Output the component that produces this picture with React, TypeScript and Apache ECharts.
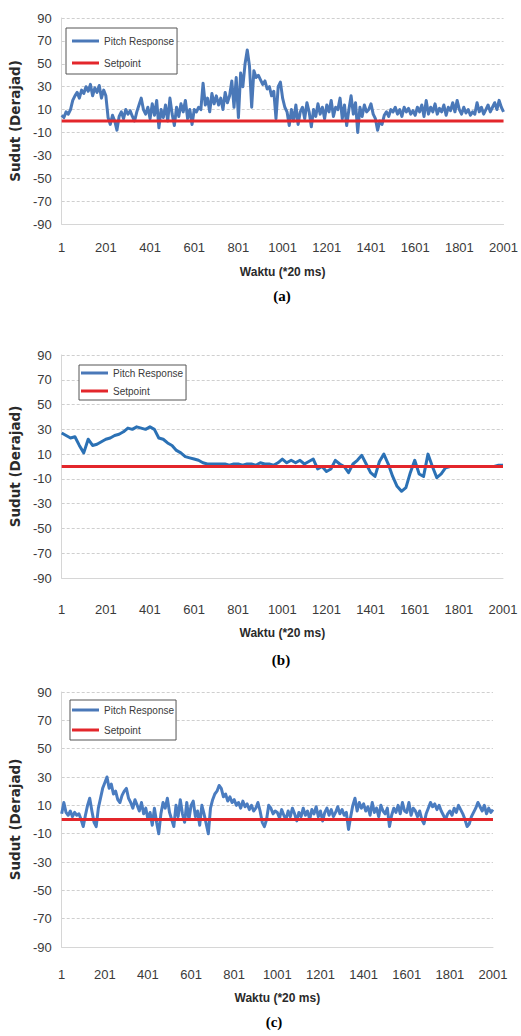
import React, { useEffect, useRef } from "react";
import * as echarts from "echarts";

// Sample times (label = sample index, one point every 10 or 20 samples)
const CATS_10 = Array.from({ length: 201 }, (_, i) => String(1 + i * 10));
const CATS_20 = Array.from({ length: 101 }, (_, i) => String(1 + i * 20));

const SETPOINT = 0;

// (a) pitch response, one value every 10 samples
const PITCH_A = [
  5, 3, 8, 6, 10, 18, 22, 25, 20, 27,
  24, 30, 26, 32, 22, 29, 25, 31, 20, 27,
  22, 3, -3, 5, 0, -8, 4, 8, 2, 10,
  6, 9, 4, 0, 8, 14, 20, 10, 6, 12,
  2, 15, 5, 18, -6, 10, 3, 14, 0, 20,
  6, -4, 12, 4, 15, 8, 18, 2, 10, -3,
  10, 8, 12, 10, 33, 14, 20, 8, 24, 15,
  22, 14, 20, 10, 25, 16, 22, 35, 12, 38,
  3, 42, 30, 50, 62, 48, 12, 44, 38, 40,
  36, 32, 35, 28, 30, 22, 26, 2, 30, 34,
  20, 12, 8, -4, 10, 0, 14, -3, 8, 12,
  2, 16, 8, -5, 10, 4, 15, 6, 12, 2,
  14, 8, 18, 4, 12, 10, 20, 2, 14, -4,
  10, 22, 6, 16, -10, 12, 4, 14, 8, 10,
  15, 6, 2, -8, 0, -3, 5, 8, 4, 10,
  8, 12, 6, 10, 4, 12, 8, 11, 6, 9,
  5, 12, 8, 14, 4, 18, 6, 12, 8, 15,
  6, 11, 8, 14, 5, 12, 9, 16, 8, 18,
  10, 6, 12, 7, 10, 5, 8, 6, 16, 8,
  12, 6, 10, 14, 8, 12, 16, 10, 18, 12,
  8,
];

// (b) pitch response, one value every 20 samples
const PITCH_B = [
  27, 25, 23, 24, 17, 11, 22, 17, 18, 20,
  22, 23, 25, 26, 28, 31, 30, 32, 31, 30,
  32, 30, 23, 22, 19, 17, 13, 11, 8, 7,
  6, 5, 3, 2, 2, 2, 2, 2, 1, 2,
  2, 1, 2, 2, 1, 3, 2, 2, 1, 3,
  6, 3, 5, 3, 5, 2, 4, 6, -2, 0,
  -4, -2, 5, 2, 0, -5, 2, 5, 9, 2,
  -5, -8, 4, 10, 2, -8, -16, -20, -17, -5,
  5, -6, -8, 10, 0, -9, -6, -1, 0, 0,
  0, 0, 0, 0, 0, 0, 0, 0, 0, 1,
  1,
];

// (c) pitch response, one value every 10 samples
const PITCH_C = [
  4, 12, 5, 3, 6, 2, 5, 3, 4, 0,
  -5, 3, 10, 15, 6, -2, -5, 8, 15, 22,
  26, 30, 22, 25, 18, 20, 14, 12, 17, 20,
  22, 15, 12, 8, 14, 10, 6, 12, 4, 8,
  0, 5, -4, 8, -2, -10, 4, 12, 8, 15,
  5, 0, -5, 10, 2, 14, 4, -2, 12, 0,
  10, 13, 2, 6, -4, 10, 4, -3, -10, 8,
  14, 18, 20, 24, 22, 16, 18, 13, 16, 12,
  14, 10, 12, 8, 13, 9, 11, 7, 10, 6,
  8, 12, 6, -2, -5, 0, 10, 8, 4, 6,
  5, 1, 7, 3, 0, 6, 2, 8, 4, -1,
  5, 2, 8, 3, 6, 0, 7, 4, 9, 2,
  6, -1, 5, 8, 3, 7, 2, 5, 9, 4,
  7, 3, 5, -7, 2, 10, 15, 6, 12, 8,
  11, 6, 9, 3, 12, 5, 8, 2, 10, 6,
  4, 8, -5, 3, 8, 5, 10, 4, 12, 6,
  5, 12, 3, 8, 6, 2, 6, 0, -3, 4,
  8, 12, 9, 11, 7, 10, 6, 3, 0, 4,
  6, 3, 8, 5, 10, 7, 4, 0, -5, -3,
  2, 5, 8, 12, 9, 6, 10, 4, 8, 5,
  7,
];

const Y_MIN = -90;
const Y_MAX = 90;
const Y_STEP = 20;

const X_TITLE = "Waktu (*20 ms)";
const Y_TITLE = "Sudut (Derajad)";
const NAMES = ["Pitch Response", "Setpoint"];
const CAPTIONS = ["(a)", "(b)", "(c)"];

const SANS = "'Liberation Sans', Arial, sans-serif";
const RED = "#e3262b";

type Panel = {
  cats: string[];
  pitch: number[];
  labelInterval: number;
  grid: { left: number; top: number; width: number; height: number };
  blue: string;
  blueWidth: number;
  xLabelMargin: number;
  xNameGap: number;
  yNameGap: number;
  legend: { left: number; top: number; itemGap: number; padding: number[] };
  caption: { x: number; y: number };
};

const PANELS: Panel[] = [
  {
    cats: CATS_10,
    pitch: PITCH_A,
    labelInterval: 19,
    grid: { left: 58, top: 18, width: 449, height: 206 },
    blue: "#4a78b8",
    blueWidth: 3,
    xLabelMargin: 17,
    xNameGap: 42,
    yNameGap: 29,
    legend: { left: 66, top: 28, itemGap: 10, padding: [7, 3, 5, 6] },
    caption: { x: 282, y: 296 },
  },
  {
    cats: CATS_20,
    pitch: PITCH_B,
    labelInterval: 9,
    grid: { left: 59, top: 355, width: 444, height: 223 },
    blue: "#2b71b5",
    blueWidth: 3,
    xLabelMargin: 25,
    xNameGap: 49,
    yNameGap: 28,
    legend: { left: 79, top: 365, itemGap: 6, padding: [2, 3, 3, 2] },
    caption: { x: 281, y: 660 },
  },
  {
    cats: CATS_10,
    pitch: PITCH_C,
    labelInterval: 19,
    grid: { left: 54, top: 692, width: 439, height: 255 },
    blue: "#4a7cc0",
    blueWidth: 3,
    xLabelMargin: 21,
    xNameGap: 45,
    yNameGap: 24,
    legend: { left: 70, top: 700, itemGap: 8, padding: [4, 2, 4, 2] },
    caption: { x: 274, y: 1022 },
  },
];

function buildOption() {
  const grid: any[] = [];
  const xAxis: any[] = [];
  const yAxis: any[] = [];
  const series: any[] = [];
  const legend: any[] = [];
  const graphic: any[] = [];

  PANELS.forEach((p, i) => {
    grid.push({ ...p.grid, containLabel: false });
    xAxis.push({
      type: "category",
      gridIndex: i,
      data: p.cats,
      boundaryGap: false,
      axisTick: { show: false },
      axisLine: { show: true, onZero: false, lineStyle: { color: "#d6d6d6", width: 1 } },
      axisLabel: {
        interval: p.labelInterval,
        margin: p.xLabelMargin,
        color: "#3a3a3a",
        fontSize: 13,
        fontFamily: SANS,
      },
      splitLine: { show: false },
      name: X_TITLE,
      nameLocation: "middle",
      nameGap: p.xNameGap,
      nameTextStyle: { fontSize: 12, fontWeight: "bold", color: "#2a2a2a", fontFamily: SANS },
    });
    yAxis.push({
      type: "value",
      gridIndex: i,
      min: Y_MIN,
      max: Y_MAX,
      interval: Y_STEP,
      axisTick: { show: false },
      axisLine: { show: true, lineStyle: { color: "#d6d6d6", width: 1 } },
      axisLabel: { margin: 10, color: "#3a3a3a", fontSize: 13, fontFamily: SANS },
      splitLine: { show: true, lineStyle: { color: "#cfcfcf", width: 1, type: [3, 2] } },
      name: Y_TITLE,
      nameLocation: "middle",
      nameRotate: 90,
      nameGap: p.yNameGap,
      nameTextStyle: { fontSize: 13.5, fontWeight: "bold", color: "#2a2a2a", fontFamily: "'DejaVu Sans', sans-serif" },
    });
    series.push({
      name: NAMES[0],
      type: "line",
      xAxisIndex: i,
      yAxisIndex: i,
      data: p.pitch,
      showSymbol: false,
      lineStyle: { color: p.blue, width: p.blueWidth, join: "round" },
      itemStyle: { color: p.blue },
      z: 2,
    });
    series.push({
      name: NAMES[1],
      type: "line",
      xAxisIndex: i,
      yAxisIndex: i,
      data: p.cats.map(() => SETPOINT),
      showSymbol: false,
      lineStyle: { color: RED, width: 3 },
      itemStyle: { color: RED },
      z: 3,
    });
    legend.push({
      data: NAMES,
      orient: "vertical",
      left: p.legend.left,
      top: p.legend.top,
      itemGap: p.legend.itemGap,
      padding: p.legend.padding,
      icon: "rect",
      itemWidth: 27,
      itemHeight: 3,
      borderColor: "#555555",
      borderWidth: 1,
      backgroundColor: "#ffffff",
      selectedMode: false,
      textStyle: { fontSize: 10, color: "#3a3a3a", fontFamily: SANS, lineHeight: 12 },
    });
    graphic.push({
      type: "text",
      x: p.caption.x,
      y: p.caption.y,
      style: {
        text: CAPTIONS[i],
        fill: "#000000",
        font: "bold 15px 'Liberation Serif', 'Times New Roman', serif",
        textAlign: "center",
        textVerticalAlign: "middle",
      },
    });
  });

  return {
    animation: false,
    backgroundColor: "#ffffff",
    grid,
    xAxis,
    yAxis,
    series,
    legend,
    graphic,
  };
}

export default function App() {
  const ref = useRef<HTMLDivElement>(null);
  useEffect(() => {
    if (!ref.current) return;
    const chart = echarts.init(ref.current, undefined, { renderer: "svg" });
    chart.setOption(buildOption() as any);
    return () => chart.dispose();
  }, []);
  return (
    <div
      ref={ref}
      style={{ position: "absolute", left: 0, top: 0, width: 521, height: 1036 }}
    />
  );
}
